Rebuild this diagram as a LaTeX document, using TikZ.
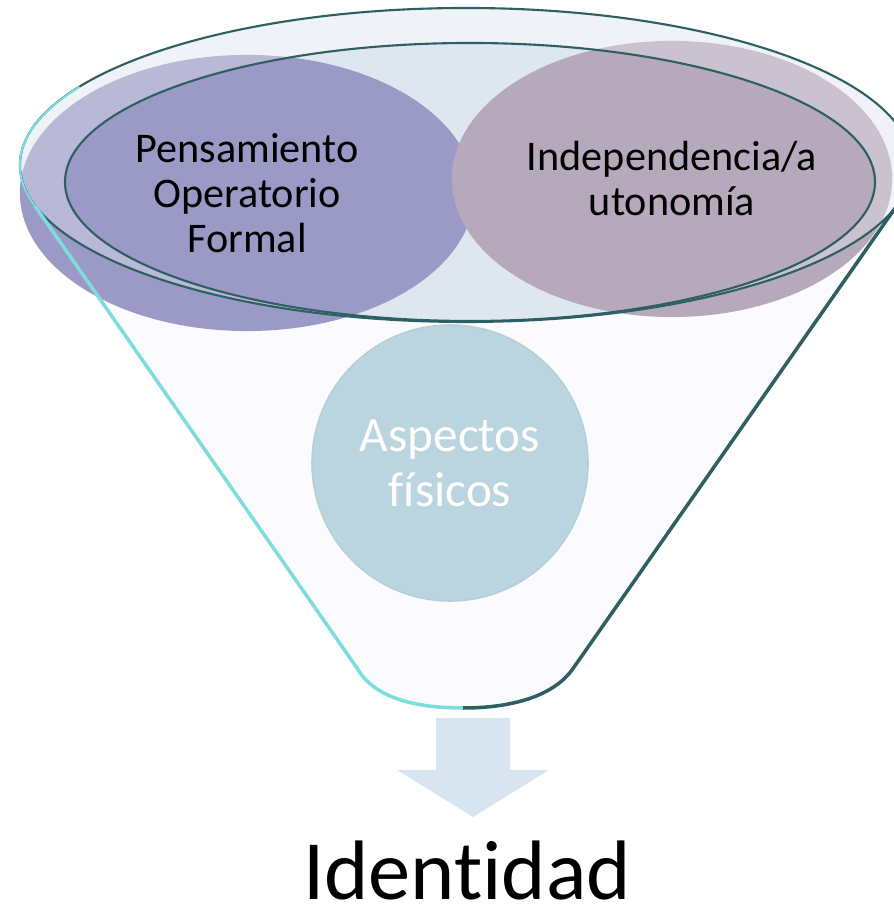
\documentclass[tikz,border=0pt]{standalone}
\usepackage{fontspec}
\setmainfont[Ligatures=NoCommon]{Carlito}
\usetikzlibrary{positioning}
\usetikzlibrary{calc}
\usetikzlibrary{shapes}
\definecolor{purpleball}{HTML}{9B9AC6}
\definecolor{mauveball}{HTML}{B5A9BB}
\definecolor{blueball}{HTML}{BAD5DF}
\definecolor{rimfill}{HTML}{DEE6EF}
\definecolor{rimring}{HTML}{E9EDF3}
\definecolor{funnelfill}{HTML}{FBFBFD}
\definecolor{tealline}{HTML}{2E5F62}
\definecolor{cyanline}{HTML}{7FDCDC}
\definecolor{arrowfill}{HTML}{D8E4F0}
\tikzset{
	every node/.style={align=center,inner sep=0pt},
	bubble/.style={ellipse, font=\fontsize{12}{12.8}\selectfont},
	ball/.style={circle, fill=blueball, draw=blueball!92!gray, thin, text=white,
		minimum size=2.76cm, font=\fontsize{14}{15.6}\selectfont},
	glass/.style={white, opacity=0.3, even odd rule},
	rimline/.style={tealline, semithick},
	funnelside/.style={line width=1pt},
	blockarrow/.style={fill=arrowfill}
}

\begin{document}
\begin{tikzpicture}[x=0.01cm,y=0.01cm]
	\useasboundingbox (0,0) rectangle (893,907);
	% Funnel
	\coordinate (rimleft) at (35,701);
	\coordinate (rimright) at (898,703);
	\coordinate (bottom) at (463,199);
	\fill[funnelfill] (rimleft) -- (357,239) .. controls (375,207) and (420,199) .. (bottom)
		.. controls (510,199) and (552,210) .. (572,237) -- (rimright) -- cycle;
	\fill[rimring] (466,742) ellipse [x radius=446, y radius=157];
	\fill[rimfill] (470,725) ellipse [x radius=405, y radius=139];
	
	% Bubbles in the rim
	\node (pensamiento) [bubble, fill=purpleball, minimum width=4.54cm, minimum height=2.76cm]
		at (247,714) {Pensamiento\\Operatorio\\Formal};
	\node (independencia) [bubble, fill=mauveball, minimum width=4.40cm, minimum height=2.76cm]
		at (672,728) {Independencia/a\\utonomía};
	
	% Glass of the rim
	\fill[glass] (466,742) ellipse [x radius=446, y radius=157]
		(470,725) ellipse [x radius=405, y radius=139];
	\draw[rimline] (466,742) ellipse [x radius=446, y radius=157];
	\draw[rimline] (470,725) ellipse [x radius=405, y radius=139];
	\draw[cyanline, semithick] (rimleft) arc [start angle=195, end angle=150, x radius=446, y radius=157];
	
	% Sides
	\draw[funnelside, cyanline] (rimleft) -- (357,239) .. controls (375,207) and (420,199) .. (bottom);
	\draw[funnelside, tealline] (bottom) .. controls (510,199) and (552,210) .. (572,237) -- (rimright);
	
	\node (aspectos) [ball] at (450,444) {Aspectos\\físicos};
	
	% Arrow and result
	\fill[blockarrow] (436,189) -- (510,189) -- (510,137) -- (549,137) -- (473,90)
		-- (397,137) -- (436,137) -- cycle;
	\node (identidad) [anchor=base, align=none, text depth=0pt, font=\fontsize{24}{28}\selectfont]
		at (467,8) {Identidad};
	
\end{tikzpicture}
\end{document}
